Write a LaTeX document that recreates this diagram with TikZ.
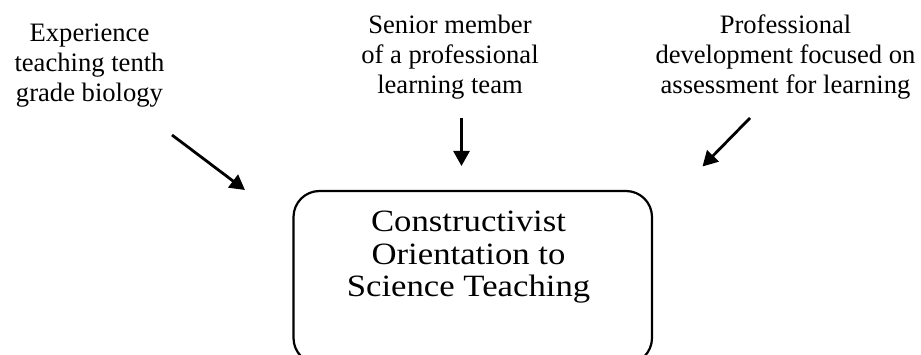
\documentclass[tikz,border=0pt]{standalone}
\usepackage{fontspec}
\setmainfont{Liberation Serif}
\newfontfamily\boxfont[FakeStretch=1.12]{Liberation Serif}
\usetikzlibrary{arrows.meta}
\begin{document}
\begin{tikzpicture}[x=1pt,y=-1pt,
  toptext/.style={align=center,font=\fontsize{26.6}{30}\selectfont,inner sep=0pt},
  boxtext/.style={align=center,font=\boxfont\fontsize{31}{32.5}\selectfont,inner sep=0pt},
  arr/.style={line width=2.8pt,-{Triangle[length=15pt,width=16pt]}},
  mainbox/.style={draw,line width=2.2pt,rounded corners=26pt}]
\useasboundingbox (0,0) rectangle (921,355);
\clip (0,0) rectangle (921,355);
\node[toptext] (exp) at (89.5,65.9) {Experience\\teaching tenth\\grade biology};
\node[toptext] (sen) at (450,56.8) {Senior member\\of a professional\\learning team};
\node[toptext] (pro) at (785.5,56.8) {Professional\\development focused on\\assessment for learning};
\draw[mainbox] (293.5,191) rectangle (652,364);
\node[boxtext] (cot) at (468.5,257.3) {Constructivist\\Orientation to\\Science Teaching};
\coordinate (a1s) at (172,135); \coordinate (a1e) at (245,190);
\coordinate (a2s) at (461.5,118); \coordinate (a2e) at (461.5,166);
\coordinate (a3s) at (750,118); \coordinate (a3e) at (702.5,166.5);
\draw[arr] (a1s) -- (a1e);
\draw[arr] (a2s) -- (a2e);
\draw[arr] (a3s) -- (a3e);
\end{tikzpicture}
\end{document}
